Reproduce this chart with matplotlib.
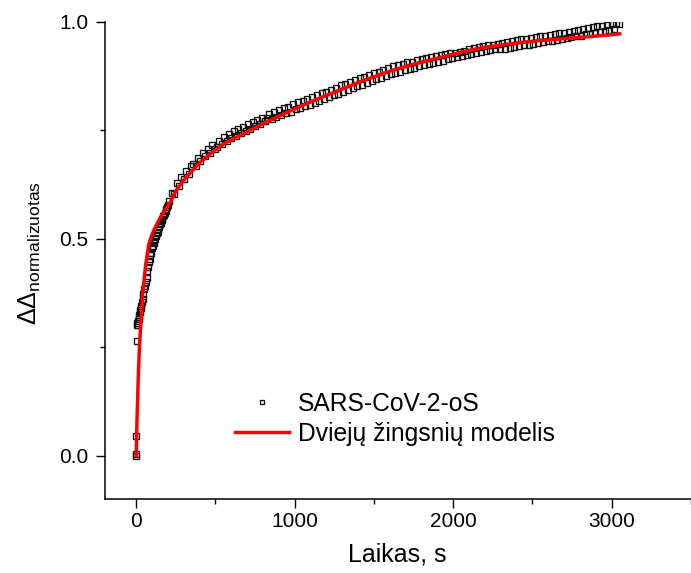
import matplotlib
matplotlib.use("Agg")
import matplotlib.pyplot as plt
from matplotlib.ticker import MultipleLocator

plt.rcParams['font.family'] = ['Liberation Sans', 'DejaVu Sans']
plt.rcParams['mathtext.fontset'] = 'custom'
plt.rcParams['mathtext.rm'] = 'Liberation Sans'
plt.rcParams['mathtext.it'] = 'Liberation Sans:italic'

# ---- measured data (SARS-CoV-2-oS) ----
t_early = [0, 0, 1, 3, 5, 8, 10, 13, 15, 18, 20, 23, 25, 28, 30, 35, 40, 45, 50, 55,
           60, 65, 70, 75, 80, 85, 90, 95, 100, 105, 110, 115, 120, 125, 130, 135,
           140, 145, 150, 155, 160, 165, 170, 175, 180, 185, 190, 195, 200]
v_early = [0.0, 0.004, 0.045, 0.265, 0.30, 0.305, 0.31, 0.30, 0.315, 0.32, 0.325, 0.33,
           0.335, 0.34, 0.345, 0.355, 0.362, 0.372, 0.383, 0.39, 0.40, 0.41, 0.425,
           0.435, 0.447, 0.452, 0.463, 0.468, 0.478, 0.484, 0.49, 0.494, 0.50, 0.505,
           0.512, 0.516, 0.522, 0.527, 0.533, 0.536, 0.542, 0.546, 0.552, 0.555, 0.56,
           0.564, 0.569, 0.573, 0.578]

t_late = [210, 225, 240, 255, 270, 285, 300, 315, 330, 345,
          360, 375, 390, 405, 420, 435, 450, 465, 480, 495,
          510, 525, 540, 555, 570, 585, 600, 615, 630, 645,
          660, 675, 690, 705, 720, 735, 750, 765, 780, 795,
          810, 825, 840, 855, 870, 885, 900, 915, 930, 945,
          960, 975, 990, 1005, 1020, 1035, 1050, 1065, 1080, 1095,
          1110, 1125, 1140, 1155, 1170, 1185, 1200, 1215, 1230, 1245,
          1260, 1275, 1290, 1305, 1320, 1335, 1350, 1365, 1380, 1395,
          1410, 1425, 1440, 1455, 1470, 1485, 1500, 1515, 1530, 1545,
          1560, 1575, 1590, 1605, 1620, 1635, 1650, 1665, 1680, 1695,
          1710, 1725, 1740, 1755, 1770, 1785, 1800, 1815, 1830, 1845,
          1860, 1875, 1890, 1905, 1920, 1935, 1950, 1965, 1980, 1995,
          2010, 2025, 2040, 2055, 2070, 2085, 2100, 2115, 2130, 2145,
          2160, 2175, 2190, 2205, 2220, 2235, 2250, 2265, 2280, 2295,
          2310, 2325, 2340, 2355, 2370, 2385, 2400, 2415, 2430, 2445,
          2460, 2475, 2490, 2505, 2520, 2535, 2550, 2565, 2580, 2595,
          2610, 2625, 2640, 2655, 2670, 2685, 2700, 2715, 2730, 2745,
          2760, 2775, 2790, 2805, 2820, 2835, 2850, 2865, 2880, 2895,
          2910, 2925, 2940, 2955, 2970, 2985, 3000, 3015, 3030, 3045]
v_late = [0.586, 0.606, 0.603, 0.628, 0.622, 0.642, 0.637, 0.657, 0.649, 0.668,
          0.672, 0.667, 0.686, 0.679, 0.698, 0.690, 0.707, 0.698, 0.715, 0.707,
          0.712, 0.726, 0.718, 0.735, 0.726, 0.741, 0.732, 0.748, 0.737, 0.752,
          0.743, 0.757, 0.747, 0.764, 0.753, 0.769, 0.759, 0.774, 0.764, 0.777,
          0.771, 0.779, 0.787, 0.776, 0.791, 0.780, 0.796, 0.785, 0.800, 0.789,
          0.803, 0.793, 0.810, 0.798, 0.814, 0.802, 0.818, 0.805, 0.822, 0.809,
          0.826, 0.813, 0.831, 0.818, 0.836, 0.822, 0.839, 0.826, 0.843, 0.831,
          0.848, 0.834, 0.853, 0.839, 0.857, 0.843, 0.861, 0.847, 0.865, 0.852,
          0.870, 0.855, 0.873, 0.859, 0.877, 0.864, 0.881, 0.867, 0.885, 0.871,
          0.889, 0.875, 0.893, 0.879, 0.897, 0.882, 0.900, 0.885, 0.903, 0.889,
          0.906, 0.891, 0.908, 0.894, 0.911, 0.897, 0.914, 0.900, 0.917, 0.903,
          0.919, 0.905, 0.921, 0.908, 0.924, 0.910, 0.926, 0.913, 0.929, 0.916,
          0.928, 0.918, 0.931, 0.920, 0.933, 0.923, 0.936, 0.925, 0.939, 0.928,
          0.941, 0.930, 0.944, 0.932, 0.946, 0.934, 0.947, 0.936, 0.949, 0.937,
          0.951, 0.938, 0.953, 0.940, 0.955, 0.942, 0.957, 0.944, 0.959, 0.946,
          0.960, 0.947, 0.962, 0.949, 0.964, 0.951, 0.966, 0.953, 0.967, 0.955,
          0.969, 0.956, 0.971, 0.958, 0.973, 0.960, 0.975, 0.962, 0.977, 0.964,
          0.979, 0.966, 0.981, 0.968, 0.983, 0.971, 0.985, 0.972, 0.987, 0.974,
          0.989, 0.976, 0.991, 0.978, 0.993, 0.980, 0.995, 0.983, 0.998, 0.994]

# ---- two-step model fit ----
fit_t = [0, 2, 4, 6, 8, 10, 13, 16, 20, 25, 30, 35, 40, 50, 60, 70, 80, 100, 120, 150,
         180, 215, 250, 300, 350, 400, 460, 500, 560, 600, 650, 700, 800, 900, 1000,
         1100, 1200, 1300, 1400, 1500, 1600, 1700, 1800, 1900, 2000, 2100, 2200, 2300,
         2400, 2500, 2600, 2700, 2800, 2900, 3000, 3050]
fit_v = [0, 0.03, 0.065, 0.095, 0.12, 0.145, 0.18, 0.21, 0.245, 0.28, 0.31, 0.335, 0.37,
         0.405, 0.44, 0.465, 0.488, 0.51, 0.526, 0.547, 0.565, 0.584, 0.61, 0.635, 0.655,
         0.675, 0.693, 0.705, 0.72, 0.728, 0.737, 0.746, 0.765, 0.782, 0.799, 0.815,
         0.83, 0.845, 0.86, 0.873, 0.886, 0.897, 0.907, 0.916, 0.925, 0.934, 0.941,
         0.946, 0.951, 0.955, 0.958, 0.961, 0.964, 0.967, 0.97, 0.972]

data_label = "SARS-CoV-2-oS"
fit_label = "Dviejų žingsnių modelis"
x_label = "Laikas, s"
y_label = r"$\mathrm{ΔΔ}_{\mathrm{normalizuotas}}$"
x_ticks = [0, 1000, 2000, 3000]
y_ticks = [0.0, 0.5, 1.0]

W, H = 691, 573
fig = plt.figure(figsize=(W / 100, H / 100), dpi=100)
ax = fig.add_axes([104.5 / W, 74 / H, (W - 104.5) / W, (499 - 21.7) / H])

ax.plot(t_early + t_late, v_early + v_late, ls='none', marker='s', ms=4.2,
        mfc='none', mec='#111111', mew=0.95, label=data_label, zorder=2)
ax.plot(fit_t, fit_v, color='#ff0000', lw=2.5, label=fit_label, zorder=3)

ax.set_xlim(-200, 3500)
ax.set_ylim(-0.1, 1.0)
ax.set_xticks(x_ticks)
ax.set_yticks(y_ticks)
ax.set_yticklabels([f"{v:.1f}" for v in y_ticks])
ax.xaxis.set_minor_locator(MultipleLocator(500))
ax.yaxis.set_minor_locator(MultipleLocator(0.25))

for s in ['top', 'right']:
    ax.spines[s].set_visible(False)
for s in ['left', 'bottom']:
    ax.spines[s].set_linewidth(1.1)

ax.tick_params(which='major', direction='out', length=6.5, width=1.0, labelsize=15)
ax.tick_params(axis='x', which='major', pad=3)
ax.tick_params(axis='y', which='major', pad=5)
ax.tick_params(which='minor', direction='out', length=3.5, width=1.0)

ax.set_xlabel(x_label, fontsize=18)
ax.xaxis.set_label_coords(0.5, -0.092)
ax.set_ylabel(y_label, fontsize=18)
ax.yaxis.set_label_coords(-0.105, 0.515)

leg = ax.legend(loc='center', bbox_to_anchor=(395 / W, 1 - 419 / H),
                bbox_transform=fig.transFigure, frameon=False, fontsize=17.7,
                handlelength=2.2, handletextpad=0.35, labelspacing=0.25,
                borderpad=0.1, markerscale=0.85)

fig.savefig("out.png", dpi=100)
